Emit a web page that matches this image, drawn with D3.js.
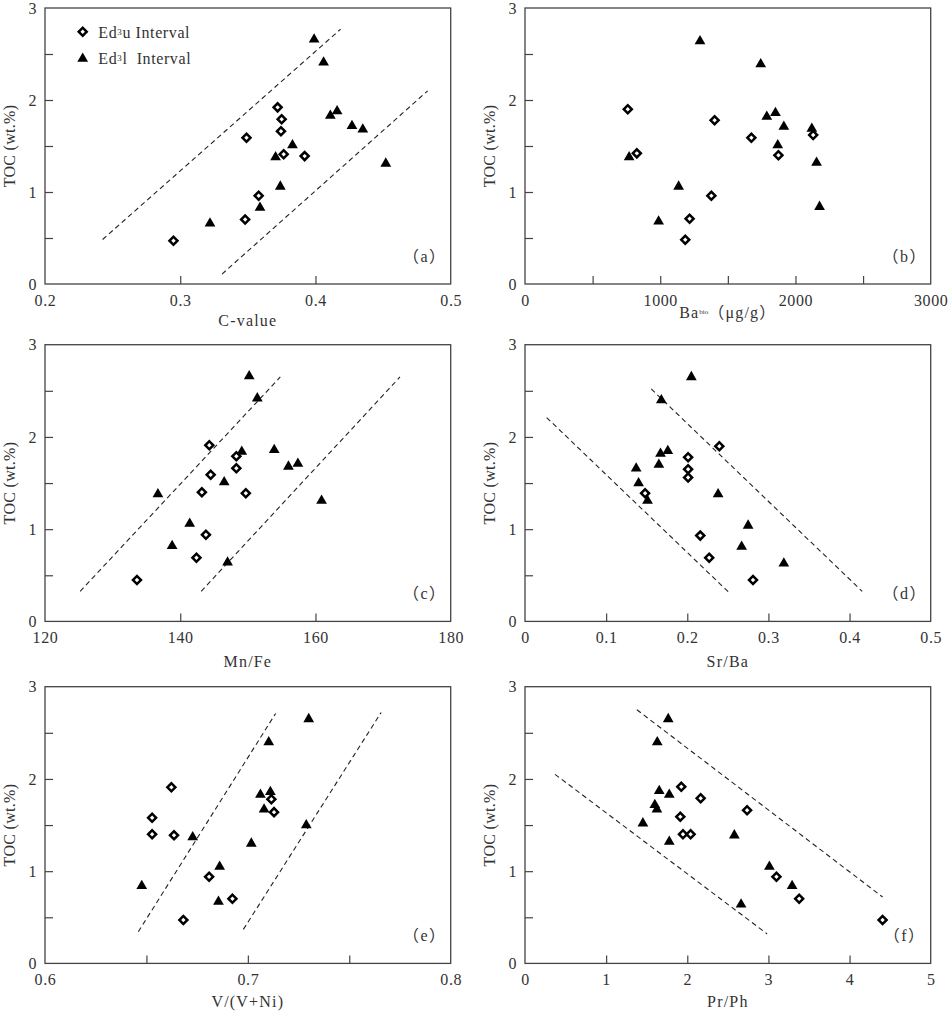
<!DOCTYPE html>
<html>
<head>
<meta charset="utf-8">
<script src="https://cdn.jsdelivr.net/npm/d3@7"></script>
<style>
  body { margin: 0; background: #fff; }
  text { font-family: "Liberation Serif", "Noto Sans CJK SC", serif; fill: #333; letter-spacing: 0.6px; }
</style>
</head>
<body>
<svg width="948" height="1012"></svg>
<script>
// ---- data ----
// (a) C-value
var aUx = [0.295, 0.348, 0.358, 0.349, 0.372, 0.375, 0.3745, 0.3765, 0.392];
var aUy = [0.47, 0.70, 0.96, 1.59, 1.92, 1.79, 1.66, 1.41, 1.39];
var aLx = [0.322, 0.359, 0.374, 0.3705, 0.383, 0.399, 0.406, 0.411, 0.416, 0.427, 0.435, 0.452];
var aLy = [0.67, 0.84, 1.07, 1.39, 1.52, 2.67, 2.42, 1.84, 1.89, 1.73, 1.69, 1.32];
var aLines = [[[0.2426, 0.484], [0.4186, 2.77]], [[0.3309, 0.108], [0.483, 2.10]]];

// (b) Ba bio
var bUx = [760, 827, 1402, 1378, 1217, 1185, 1674, 1874, 2131];
var bUy = [1.90, 1.42, 1.78, 0.96, 0.71, 0.48, 1.59, 1.40, 1.62];
var bLx = [770, 988, 1136, 1294, 1743, 1788, 1852, 1914, 1869, 2121, 2156, 2178];
var bLy = [1.39, 0.69, 1.07, 2.65, 2.40, 1.83, 1.87, 1.72, 1.52, 1.70, 1.33, 0.85];
var bLines = [];

// (c) Mn/Fe
var cUx = [133.6, 142.4, 143.8, 143.2, 144.5, 144.3, 148.3, 148.3, 149.7];
var cUy = [0.45, 0.69, 0.94, 1.40, 1.59, 1.91, 1.79, 1.66, 1.39];
var cLx = [136.7, 138.8, 141.4, 146.5, 147.0, 149.1, 150.2, 151.4, 153.9, 156.0, 157.4, 160.9];
var cLy = [1.39, 0.83, 1.07, 1.52, 0.65, 1.85, 2.67, 2.43, 1.87, 1.69, 1.72, 1.32];
var cLines = [[[125.2, 0.326], [154.8, 2.65]], [[143.1, 0.326], [172.5, 2.65]]];

// (d) Sr/Ba
var dUx = [0.2395, 0.201, 0.201, 0.201, 0.148, 0.216, 0.227, 0.281];
var dUy = [1.90, 1.78, 1.65, 1.56, 1.39, 0.93, 0.69, 0.45];
var dLx = [0.137, 0.140, 0.151, 0.165, 0.167, 0.176, 0.168, 0.205, 0.238, 0.275, 0.267, 0.319];
var dLy = [1.67, 1.51, 1.32, 1.71, 1.83, 1.86, 2.41, 2.66, 1.39, 1.05, 0.82, 0.64];
var dLines = [[[0.0267, 2.21], [0.253, 0.30]], [[0.1556, 2.52], [0.4156, 0.326]]];

// (e) V/(V+Ni)
var eUx = [0.6623, 0.6528, 0.6528, 0.6636, 0.6682, 0.6809, 0.6924, 0.7116, 0.7129];
var eUy = [1.91, 1.58, 1.40, 1.39, 0.47, 0.94, 0.70, 1.78, 1.64];
var eLx = [0.6477, 0.6728, 0.6855, 0.6861, 0.7017, 0.7062, 0.7080, 0.7103, 0.7111, 0.7288, 0.7300];
var eLy = [0.85, 1.38, 0.68, 1.06, 1.31, 1.84, 1.68, 2.41, 1.87, 1.51, 2.66];
var eLines = [[[0.646, 0.343], [0.7137, 2.71]], [[0.6978, 0.369], [0.7657, 2.72]]];

// (f) Pr/Ph
var fUx = [1.926, 2.165, 1.914, 1.947, 2.041, 2.737, 3.099, 3.379, 4.407];
var fUy = [1.915, 1.79, 1.59, 1.40, 1.40, 1.66, 0.94, 0.70, 0.47];
var fLx = [1.765, 1.630, 1.654, 1.778, 1.60, 1.626, 1.453, 1.778, 2.58, 3.012, 3.292, 2.663];
var fLy = [2.66, 2.41, 1.88, 1.84, 1.73, 1.68, 1.53, 1.33, 1.40, 1.06, 0.85, 0.65];
var fLines = [[[1.379, 2.75], [4.407, 0.72]], [[0.370, 2.05], [2.984, 0.32]]];

// axis ticks
var yLabels = [0, 1, 2, 3];
var yTicks = [0.5, 1, 1.5, 2, 2.5];

var panels = [
  {tag: "a", xDom: [0.2, 0.5], xLabels: [0.2, 0.3, 0.4, 0.5], xTicks: [0.3, 0.4], fmt: ".1f",
   ux: aUx, uy: aUy, lx: aLx, ly: aLy, lines: aLines, title: "C-value", col: 0, row: 0, tOff: 36},
  {tag: "b", xDom: [0, 3000], xLabels: [0, 1000, 2000, 3000], xTicks: [500, 1000, 1500, 2000, 2500], fmt: "d",
   ux: bUx, uy: bUy, lx: bLx, ly: bLy, lines: bLines, title: "Ba", col: 1, row: 0, tOff: 28},
  {tag: "c", xDom: [120, 180], xLabels: [120, 140, 160, 180], xTicks: [140, 160], fmt: "d",
   ux: cUx, uy: cUy, lx: cLx, ly: cLy, lines: cLines, title: "Mn/Fe", col: 0, row: 1, tOff: 40},
  {tag: "d", xDom: [0, 0.5], xLabels: [0, 0.1, 0.2, 0.3, 0.4, 0.5], xTicks: [0.1, 0.2, 0.3, 0.4], fmt: "",
   ux: dUx, uy: dUy, lx: dLx, ly: dLy, lines: dLines, title: "Sr/Ba", col: 1, row: 1, tOff: 40},
  {tag: "e", xDom: [0.6, 0.8], xLabels: [0.6, 0.7, 0.8], xTicks: [0.65, 0.7, 0.75], fmt: ".1f",
   ux: eUx, uy: eUy, lx: eLx, ly: eLy, lines: eLines, title: "V/(V+Ni)", col: 0, row: 2, tOff: 38},
  {tag: "f", xDom: [0, 5], xLabels: [0, 1, 2, 3, 4, 5], xTicks: [1, 2, 3, 4], fmt: "d",
   ux: fUx, uy: fUy, lx: fLx, ly: fLy, lines: fLines, title: "Pr/Ph", col: 1, row: 2, tOff: 38}
];

// layout
var colLeft = [45, 525],
    rowTop = [8, 344.7, 686.7],
    width = 405.7,
    height = 276.7;

var svg = d3.select("svg");

var diamond = d3.symbol().type(d3.symbolSquare).size(32)();
var triangle = d3.symbol().type(d3.symbolTriangle).size(50)();

panels.forEach(function(p) {
  var g = svg.append("g")
      .attr("transform", `translate(${colLeft[p.col]},${rowTop[p.row]})`);

  var h = p.row === 0 ? height - 0.7 : height;
  var x = d3.scaleLinear().domain(p.xDom).range([0, width]);
  var y = d3.scaleLinear().domain([0, 3]).range([h, 0]);

  var fmt = p.fmt === "" ? (d => d === 0 ? "0" : d3.format(".1f")(d)) : d3.format(p.fmt);

  // tick labels
  var xl = g.append("g")
      .attr("transform", `translate(0,${h})`)
      .call(d3.axisBottom(x).tickValues(p.xLabels).tickSize(0).tickPadding(10.5).tickFormat(fmt));
  var yl = g.append("g")
      .call(d3.axisLeft(y).tickValues(yLabels).tickSize(0).tickPadding(8).tickFormat(d3.format("d")));
  [xl, yl].forEach(a => {
    a.select(".domain").remove();
    a.selectAll("text").style("font-size", "16px").attr("fill", "#333")
      .style("font-family", "'Liberation Serif', serif");
  });

  // inward ticks
  var xt = g.append("g")
      .attr("transform", `translate(0,${h})`)
      .call(d3.axisBottom(x).tickValues(p.xTicks).tickSizeInner(-8).tickSizeOuter(0).tickFormat(""));
  var yt = g.append("g")
      .call(d3.axisLeft(y).tickValues(yTicks).tickSizeInner(-8).tickSizeOuter(0).tickFormat(""));
  [xt, yt].forEach(a => {
    a.select(".domain").remove();
    a.selectAll("line").attr("stroke", "#444").attr("stroke-width", 1.2);
  });

  // frame
  g.append("rect")
      .attr("width", width)
      .attr("height", h)
      .attr("fill", "none")
      .attr("stroke", "#444")
      .attr("stroke-width", 1.3);

  // dashed trend envelopes
  p.lines.forEach(function(l) {
    g.append("line")
        .attr("x1", x(l[0][0])).attr("y1", y(l[0][1]))
        .attr("x2", x(l[1][0])).attr("y2", y(l[1][1]))
        .attr("stroke", "#222")
        .attr("stroke-width", 1.1)
        .attr("stroke-dasharray", "5,3.5");
  });

  // Ed3l triangles
  g.selectAll("path.tri")
      .data(p.lx.map((v, i) => [v, p.ly[i]]))
      .enter().append("path")
      .attr("class", "tri")
      .attr("d", triangle)
      .attr("transform", d => `translate(${x(d[0])},${y(d[1]) + 1})`)
      .attr("fill", "#000");

  // Ed3u diamonds
  g.selectAll("path.dia")
      .data(p.ux.map((v, i) => [v, p.uy[i]]))
      .enter().append("path")
      .attr("class", "dia")
      .attr("d", diamond)
      .attr("transform", d => `translate(${x(d[0])},${y(d[1])}) rotate(45)`)
      .attr("fill", "#fff")
      .attr("stroke", "#000")
      .attr("stroke-width", 2.5);

  // panel tag
  g.append("text")
      .attr("x", width - 26)
      .attr("y", h - 28)
      .attr("text-anchor", "middle")
      .attr("dominant-baseline", "central")
      .style("font-size", "16px")
      .style("letter-spacing", "1.5px")
      .text(`（${p.tag}）`);

  // x title
  var xt2 = g.append("text")
      .attr("x", width / 2)
      .attr("y", h + p.tOff)
      .attr("text-anchor", "middle")
      .attr("dominant-baseline", "central")
      .style("font-size", "16px")
      .style("letter-spacing", "1.2px");
  if (p.tag === "b") {
    xt2.append("tspan").text("Ba");
    xt2.append("tspan").style("font-size", "7px").style("letter-spacing", "0px").text("bio");
    xt2.append("tspan").text("（μg/g）");
  } else {
    xt2.text(p.title);
  }

  // y title
  g.append("text")
      .attr("transform", `translate(-36,${h / 2}) rotate(-90)`)
      .attr("text-anchor", "middle")
      .attr("dominant-baseline", "central")
      .style("font-size", "16px")
      .style("letter-spacing", "0.3px")
      .text("TOC (wt.%)");

  // legend in panel (a)
  if (p.tag === "a") {
    var leg = g.append("g").attr("transform", "translate(37.7,23.7)");
    leg.append("path").attr("d", diamond)
        .attr("transform", "rotate(45)")
        .attr("fill", "#fff").attr("stroke", "#000").attr("stroke-width", 2.5);
    leg.append("path").attr("d", triangle)
        .attr("transform", "translate(0,27)")
        .attr("fill", "#000");
    var t1 = leg.append("text").attr("x", 15.6).attr("y", 0)
        .attr("dominant-baseline", "central").style("font-size", "16px");
    t1.append("tspan").text("Ed");
    t1.append("tspan").style("font-size", "9px").text("3");
    t1.append("tspan").text("u Interval");
    var t2 = leg.append("text").attr("x", 15.6).attr("y", 26)
        .attr("dominant-baseline", "central").style("font-size", "16px");
    t2.append("tspan").text("Ed");
    t2.append("tspan").style("font-size", "9px").text("3");
    t2.append("tspan").text("l\u00a0 Interval");
  }
});
</script>
</body>
</html>
